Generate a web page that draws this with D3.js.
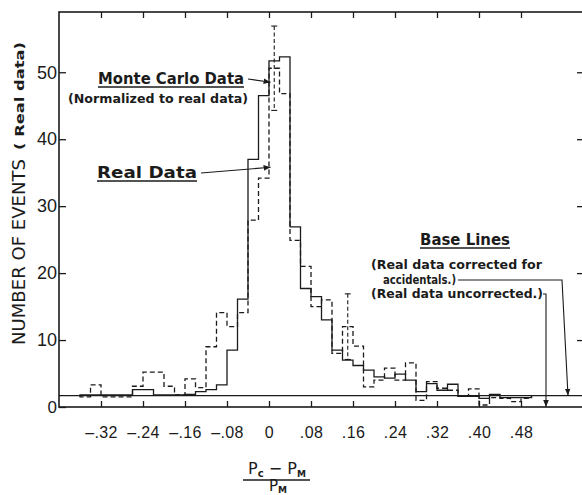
<!DOCTYPE html>
<html>
<head>
<meta charset="utf-8">
<script src="https://cdn.jsdelivr.net/npm/d3@7"></script>
<style>
body { margin: 0; background: #fff; }
</style>
</head>
<body>
<div id="chart"></div>
<script>
var width = 582,
height = 495;

// histogram bins, left edges, width 0.02
var binStarts = [-0.36, -0.34, -0.32, -0.30, -0.28, -0.26, -0.24, -0.22, -0.20, -0.18,
  -0.16, -0.14, -0.12, -0.10, -0.08, -0.06, -0.04, -0.02, 0.00, 0.02,
  0.04, 0.06, 0.08, 0.10, 0.12, 0.14, 0.16, 0.18, 0.20, 0.22,
  0.24, 0.26, 0.28, 0.30, 0.32, 0.34, 0.36, 0.38, 0.40, 0.42,
  0.44, 0.46, 0.48];
var binWidth = 0.02;

// dashed histogram (real data)
var realData = [1.5, 3.3, 1.5, 1.5, 1.5, 3.1, 5.2, 5.2, 3.1, 1.8,
  4.2, 2.9, 9.0, 14.1, 12.0, 14.1, 27.9, 34.2, 50.6, 46.8,
  24.9, 21.0, 15.0, 16.0, 8.0, 12.0, 9.1, 3.0, 4.0, 5.8,
  4.0, 6.6, 1.0, 3.8, 2.8, 2.5, 1.6, 2.7, 0.3, 1.4,
  1.3, 0.8, 1.3];

// solid histogram (monte carlo, normalized)
var monteCarlo = [1.8, 1.8, 1.8, 1.8, 1.8, 2.6, 2.6, 1.8, 1.8, 1.8,
  1.9, 2.3, 2.6, 3.3, 8.5, 16.1, 37.0, 46.5, 51.7, 52.3,
  26.9, 17.7, 16.5, 13.0, 8.5, 7.0, 6.2, 5.5, 4.5, 4.3,
  4.9, 4.0, 2.3, 3.5, 2.5, 3.4, 1.6, 1.6, 1.3, 1.9,
  1.4, 1.4, 1.4];

// error bars on the real data
var errorBins = [0.00, 0.14];
var errorValues = [50.6, 12.0];
var errorSizes = [6.3, 4.9];

var baseLineCorrected = 1.7,
  baseLineUncorrected = 0;

var xTicks = [-0.32, -0.24, -0.16, -0.08, 0, 0.08, 0.16, 0.24, 0.32, 0.40, 0.48];
var xTickLabels = ["\u2013.32", "\u2013.24", "\u2013.16", "\u2013.08", "0", ".08", ".16", ".24", ".32", ".40", ".48"];
var yTicks = [0, 10, 20, 30, 40, 50];
var yTickLabels = ["0", "10", "20", "30", "40", "50"];

var ink = "#1b1b1b";

var x = d3.scaleLinear()
  .domain([-0.40, 0.60])
  .range([59, 584]);

var y = d3.scaleLinear()
  .domain([0, 59])
  .range([407, 12]);

var svg = d3.select("#chart").append("svg")
  .attr("width", width)
  .attr("height", height)
  .style("font-family", "'DejaVu Sans', sans-serif");

// arrow head
svg.append("defs").append("marker")
  .attr("id", "arrow")
  .attr("viewBox", "0 0 10 10")
  .attr("refX", 10)
  .attr("refY", 5)
  .attr("markerWidth", 7)
  .attr("markerHeight", 7)
  .attr("markerUnits", "userSpaceOnUse")
  .attr("orient", "auto")
  .append("path")
  .attr("d", "M0,1 L10,5 L0,9 Z")
  .style("fill", ink);

// frame
svg.append("rect")
  .attr("x", x(-0.40))
  .attr("y", y(59))
  .attr("width", x(0.60) - x(-0.40))
  .attr("height", y(0) - y(59))
  .style("fill", "none")
  .style("stroke", ink)
  .style("stroke-width", 1.6);

// ticks on all four sides
var xAxis = svg.append("g")
  .attr("transform", "translate(0," + y(0) + ")")
  .call(d3.axisBottom(x)
    .tickValues(xTicks)
    .tickSize(-6)
    .tickPadding(20)
    .tickFormat(function(d, i) { return xTickLabels[i]; }));

svg.append("g")
  .attr("transform", "translate(0," + y(59) + ")")
  .call(d3.axisTop(x).tickValues(xTicks).tickSize(-6).tickFormat(""));

var yAxis = svg.append("g")
  .attr("transform", "translate(" + x(-0.40) + ",0)")
  .call(d3.axisLeft(y)
    .tickValues(yTicks)
    .tickSize(-7)
    .tickPadding(2)
    .tickFormat(function(d, i) { return yTickLabels[i]; }));

svg.append("g")
  .attr("transform", "translate(" + x(0.60) + ",0)")
  .call(d3.axisRight(y).tickValues(yTicks.slice(1)).tickSize(-7).tickFormat(""));

svg.selectAll(".domain").remove();
svg.selectAll(".tick line").style("stroke", ink).style("stroke-width", 1.3);

xAxis.selectAll("text")
  .style("font-size", "16px")
  .style("letter-spacing", "0.4px")
  .style("fill", ink);
yAxis.selectAll("text")
  .style("font-size", "18px")
  .style("fill", ink);
yAxis.select(".tick text").style("font-size", "17px");

// base line (corrected for accidentals)
svg.append("line")
  .attr("x1", x(-0.40))
  .attr("x2", x(0.60))
  .attr("y1", y(baseLineCorrected))
  .attr("y2", y(baseLineCorrected))
  .style("stroke", ink)
  .style("stroke-width", 1.2);

// histogram outlines
function stepPoints(values) {
  var pts = [[binStarts[0], baseLineCorrected]];
  values.forEach(function(v, i) { pts.push([binStarts[i], v]); });
  var end = binStarts[binStarts.length - 1] + binWidth;
  pts.push([end, values[values.length - 1]]);
  pts.push([end, baseLineCorrected]);
  return pts;
}

var step = d3.line()
  .curve(d3.curveStepAfter)
  .x(function(d) { return x(d[0]); })
  .y(function(d) { return y(d[1]); });

svg.append("path")
  .datum(stepPoints(monteCarlo))
  .attr("d", step)
  .style("fill", "none")
  .style("stroke", ink)
  .style("stroke-width", 1.3);

svg.append("path")
  .datum(stepPoints(realData))
  .attr("d", step)
  .style("fill", "none")
  .style("stroke", ink)
  .style("stroke-width", 1.3)
  .style("stroke-dasharray", "5,3");

// error bars
var eb = svg.selectAll(".errbar")
  .data(errorBins)
  .enter()
  .append("g")
  .attr("class", "errbar");

eb.append("line")
  .attr("x1", function(d) { return x(d + binWidth / 2); })
  .attr("x2", function(d) { return x(d + binWidth / 2); })
  .attr("y1", function(d, i) { return y(errorValues[i] + errorSizes[i]); })
  .attr("y2", function(d, i) { return y(errorValues[i] - errorSizes[i]); })
  .style("stroke", ink)
  .style("stroke-width", 1.1)
  .style("stroke-dasharray", "4,2.5");

[1, -1].forEach(function(s) {
  eb.append("line")
    .attr("x1", function(d) { return x(d + binWidth / 2) - 3; })
    .attr("x2", function(d) { return x(d + binWidth / 2) + 3; })
    .attr("y1", function(d, i) { return y(errorValues[i] + s * errorSizes[i]); })
    .attr("y2", function(d, i) { return y(errorValues[i] + s * errorSizes[i]); })
    .style("stroke", ink)
    .style("stroke-width", 1.1);
});

// annotations
function label(txt, px, py, size, len, weight) {
  return svg.append("text")
    .attr("x", px)
    .attr("y", py)
    .attr("textLength", len)
    .attr("lengthAdjust", "spacingAndGlyphs")
    .style("font-size", size + "px")
    .style("font-weight", weight || "normal")
    .style("fill", ink)
    .text(txt);
}

function underline(x1, x2, py) {
  svg.append("line")
    .attr("x1", x1).attr("x2", x2)
    .attr("y1", py).attr("y2", py)
    .style("stroke", ink)
    .style("stroke-width", 1.4);
}

function pointer(pts) {
  svg.append("path")
    .attr("d", d3.line()(pts))
    .attr("marker-end", "url(#arrow)")
    .style("fill", "none")
    .style("stroke", ink)
    .style("stroke-width", 1.1);
}

label("Monte Carlo Data", 98, 84, 15, 146, "600");
underline(98, 244, 87);
label("(Normalized to real data)", 68, 103, 12, 180, "bold");
pointer([[248, 79], [x(0.003), y(48.5)]]);

label("Real  Data", 97, 178, 15, 100, "600");
underline(97, 197, 181);
pointer([[201, 173], [x(0.003), y(35.8)]]);

label("Base  Lines", 420, 245, 15, 90, "600");
underline(420, 510, 248);
label("(Real data corrected for", 371, 269, 12, 171, "bold");
label("accidentals.)", 383, 284, 12, 73, "bold");
label("(Real data uncorrected.)", 371, 298, 12, 172, "bold");

pointer([[458, 280], [562, 280], [568, y(baseLineCorrected)]]);
pointer([[543, 294], [546, 294], [546, y(baseLineUncorrected)]]);

// y axis title
svg.append("text")
  .attr("transform", "translate(25,345) rotate(-90)")
  .attr("textLength", 186)
  .attr("lengthAdjust", "spacingAndGlyphs")
  .style("font-size", "17px")
  .style("fill", ink)
  .text("NUMBER OF EVENTS");

svg.append("text")
  .attr("transform", "translate(24,150) rotate(-90)")
  .attr("textLength", 108)
  .attr("lengthAdjust", "spacingAndGlyphs")
  .style("font-size", "12px")
  .style("font-weight", "bold")
  .style("fill", ink)
  .text("( Real data)");

// x axis title, a fraction
var num = svg.append("text")
  .attr("x", 277)
  .attr("y", 474)
  .attr("text-anchor", "middle")
  .style("font-size", "16px")
  .style("fill", ink);
num.append("tspan").text("P");
num.append("tspan").attr("dy", 3).style("font-size", "10px").style("font-weight", "bold").text("c");
num.append("tspan").attr("dy", -3).text(" \u2212 P");
num.append("tspan").attr("dy", 3).style("font-size", "9px").style("font-weight", "bold").text("M");

underline(243, 310, 480);

var den = svg.append("text")
  .attr("x", 278)
  .attr("y", 491)
  .attr("text-anchor", "middle")
  .style("font-size", "15px")
  .style("fill", ink);
den.append("tspan").text("P");
den.append("tspan").attr("dy", 2).style("font-size", "9px").style("font-weight", "bold").text("M");
</script>
</body>
</html>
